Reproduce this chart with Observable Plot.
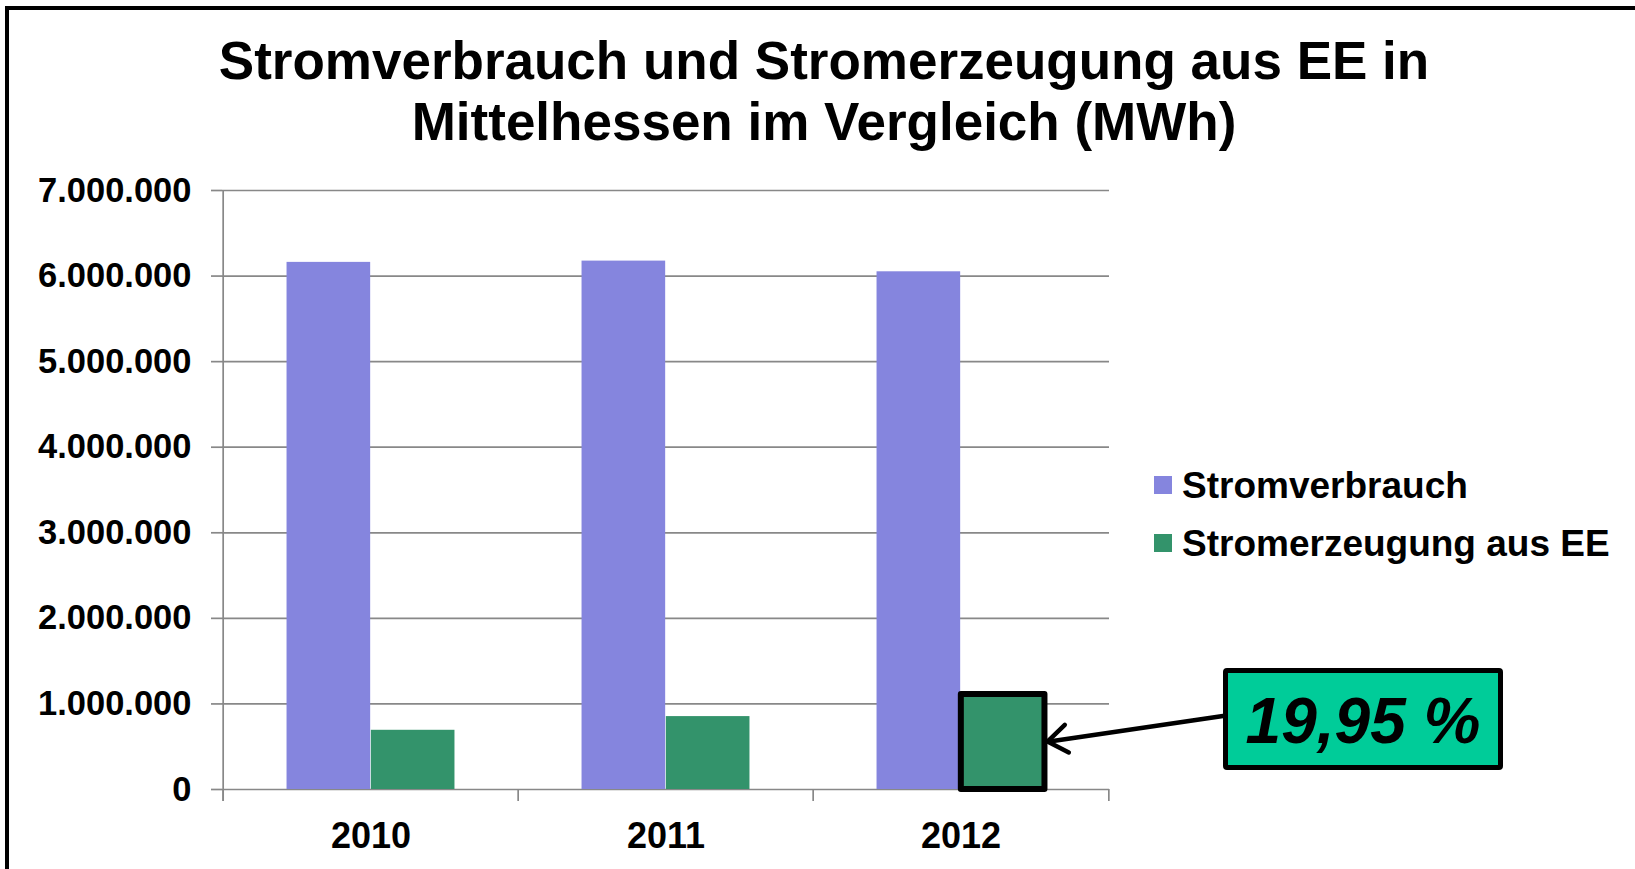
<!DOCTYPE html>
<html><head><meta charset="utf-8">
<script src="https://cdn.jsdelivr.net/npm/d3@7"></script>
<script src="https://cdn.jsdelivr.net/npm/@observablehq/plot@0.6"></script>
<style>
html,body{margin:0;padding:0;background:#fff;overflow:hidden;}
body{width:1635px;height:869px;position:relative;font-family:"Liberation Sans",Arial,sans-serif;color:#000;}
#frame{position:absolute;left:5px;top:6px;width:3000px;height:2000px;border:4px solid #000;box-sizing:border-box;}
#title{position:absolute;left:124px;width:1400px;top:30px;text-align:center;font-weight:bold;font-size:53px;line-height:61px;}
#chart{position:absolute;left:0;top:0;}
.leg-sw{position:absolute;left:1154px;width:18px;height:18px;}
.leg-tx{position:absolute;left:1182px;font-weight:bold;font-size:37px;line-height:37px;white-space:nowrap;}
#callout{position:absolute;left:1223px;top:668px;width:280px;height:102px;box-sizing:border-box;border:5px solid #000;border-radius:4px;background:#00CC99;}
#callout span{position:absolute;left:0;right:0;top:16px;text-align:center;font-weight:bold;font-style:italic;font-size:64px;line-height:64px;white-space:nowrap;}
#overlay{position:absolute;left:0;top:0;pointer-events:none;}
</style>
</head>
<body>
<div id="frame"></div>
<div id="title">Stromverbrauch und Stromerzeugung aus EE in<br>Mittelhessen im Vergleich (MWh)</div>
<div id="chart"></div>
<div id="legend"></div>
<div id="callout"><span></span></div>
<svg id="overlay" width="1635" height="869"></svg>
<script>
// ---- data ----
const years = ["2010", "2011", "2012"];
const seriesNames = ["Stromverbrauch", "Stromerzeugung aus EE"];
const stromverbrauch = [6160000, 6175000, 6050000];
const stromerzeugungEE = [692000, 852000, 1110000];
const yTicks = [0, 1000000, 2000000, 3000000, 4000000, 5000000, 6000000, 7000000];
const highlightYear = "2012";
const calloutText = "19,95 %";

// ---- styles ----
const colors = ["#8585DE", "#33936B"];
const gridColor = "#888888";
const W = 1635, H = 869;
const mL = 222, mR = 526, mT = 190, mB = 80;
const bw = (W - mL - mR) / years.length;
const barW = 84.3;

const rows = years.map((year, i) => ({year, verbrauch: stromverbrauch[i], erzeugung: stromerzeugungEE[i]}));
const de = d3.formatLocale({decimal: ",", thousands: ".", grouping: [3], currency: ["", " €"]});
const fmt = de.format(",d");

const chart = Plot.plot({
  width: W, height: H,
  marginLeft: mL, marginRight: mR, marginTop: mT, marginBottom: mB,
  style: {fontFamily: '"Liberation Sans", Arial, sans-serif', overflow: "visible", background: "transparent"},
  x: {type: "band", domain: years, padding: 0, label: null},
  y: {domain: [0, yTicks[yTicks.length - 1]], label: null},
  marks: [
    Plot.gridY(yTicks, {stroke: gridColor, strokeOpacity: 1, strokeWidth: 1.7}),
    Plot.barY(rows, {x: "year", y: "verbrauch", fill: colors[0], insetLeft: bw / 2 - barW, insetRight: bw / 2}),
    Plot.barY(rows, {x: "year", y: "erzeugung", fill: colors[1], insetLeft: bw / 2, insetRight: bw / 2 - barW}),
    Plot.barY(rows, {x: "year", y: "erzeugung", filter: d => d.year === highlightYear, fill: "none", stroke: "#000", strokeWidth: 6, strokeLinejoin: "round", insetLeft: bw / 2, insetRight: bw / 2 - barW}),
    // y axis line
    Plot.ruleX([years[0]], {x: d => d, dx: -bw / 2, stroke: gridColor, strokeWidth: 1.7, insetBottom: -12}),
    // category boundary ticks
    Plot.ruleX(years, {x: d => d, dx: -bw / 2, y1: 0, y2: 0, stroke: gridColor, strokeWidth: 1.7, insetBottom: -12}),
    Plot.ruleX([years[years.length - 1]], {x: d => d, dx: bw / 2, y1: 0, y2: 0, stroke: gridColor, strokeWidth: 1.7, insetBottom: -12}),
    Plot.axisY(yTicks, {tickFormat: fmt, tickSize: 11, tickPadding: 20, stroke: gridColor, strokeWidth: 1.7, fill: "#000", fontSize: 34.5, fontWeight: "bold", label: null}),
    Plot.axisX({tickSize: 0, tickPadding: 33, fill: "#000", fontSize: 36, fontWeight: "bold", label: null})
  ]
});
document.getElementById("chart").append(chart);

// ---- legend ----
const legend = document.getElementById("legend");
const legTops = [467, 525];
seriesNames.forEach((name, i) => {
  const sw = document.createElement("div");
  sw.className = "leg-sw";
  sw.style.top = (legTops[i] + 9) + "px";
  sw.style.background = colors[i];
  legend.append(sw);
  const tx = document.createElement("div");
  tx.className = "leg-tx";
  tx.style.top = legTops[i] + "px";
  tx.textContent = name;
  legend.append(tx);
});

// ---- callout + arrow ----
document.querySelector("#callout span").textContent = calloutText;
const xs = chart.scale("x"), ys = chart.scale("y");
const hi = years.indexOf(highlightYear);
const tipX = xs.apply(highlightYear) + xs.bandwidth - (bw / 2 - barW) + 3;
const tipY = ys.apply(stromerzeugungEE[hi] / 2);
const startX = 1223, startY = 716;
const ang = Math.atan2(startY - tipY, startX - tipX);
const armLen = 24, spread = 0.62;
const ov = d3.select("#overlay");
ov.append("line").attr("x1", startX).attr("y1", startY).attr("x2", tipX + 2).attr("y2", tipY)
  .attr("stroke", "#000").attr("stroke-width", 4.5).attr("stroke-linecap", "round");
ov.append("polyline")
  .attr("points", [
    [tipX + armLen * Math.cos(ang - spread), tipY + armLen * Math.sin(ang - spread)],
    [tipX, tipY],
    [tipX + armLen * Math.cos(ang + spread), tipY + armLen * Math.sin(ang + spread)]
  ].map(p => p.join(",")).join(" "))
  .attr("fill", "none").attr("stroke", "#000").attr("stroke-width", 4.5)
  .attr("stroke-linecap", "round").attr("stroke-linejoin", "round");
</script>
</body></html>
